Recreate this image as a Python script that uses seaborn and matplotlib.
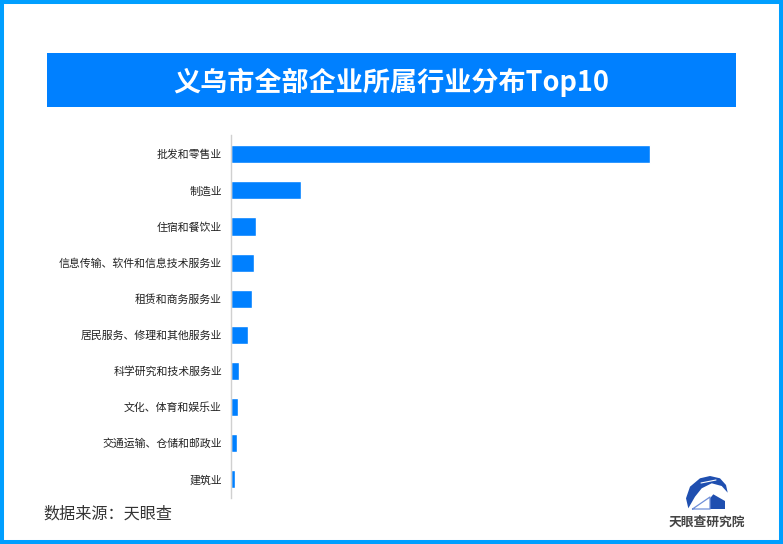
import pandas as pd
import seaborn as sns
import matplotlib.pyplot as plt
from matplotlib.patches import Rectangle, Polygon

sns.set_theme(style='white')
plt.rcParams['font.family'] = ['Noto Sans CJK SC', 'DejaVu Sans']

# 数据（从图上估读，无坐标刻度，单位按条形长度）
industries = ['批发和零售业', '制造业', '住宿和餐饮业', '信息传输、软件和信息技术服务业',
              '租赁和商务服务业', '居民服务、修理和其他服务业', '科学研究和技术服务业',
              '文化、体育和娱乐业', '交通运输、仓储和邮政业', '建筑业']
counts = [419, 70, 25, 23, 21, 17, 8, 7, 6, 4]

W, H = 783, 544
BLUE = '#0080ff'
LOGO = '#1f4fb0'

df = pd.DataFrame({'行业': industries, '数量': counts})

fig = plt.figure(figsize=(W / 100, H / 100), dpi=100)

# 主图
ax = fig.add_axes([231 / W, 1 - 498.2 / H, 505 / W, 363 / H])
sns.barplot(data=df, x='数量', y='行业', color=BLUE, width=0.5, saturation=1, ax=ax)
ax.set_xlim(0, 505)
ax.set_ylim(9.53, -0.53)
ax.set_xlabel('')
ax.set_ylabel('')
ax.set_xticks([])
ax.tick_params(axis='y', length=0, pad=6.5, labelsize=7.85, labelcolor='#222222')
sns.despine(ax=ax, left=False, bottom=True)
ax.spines['left'].set_color('#d0d0d0')
ax.spines['left'].set_linewidth(1)
ax.patch.set_alpha(0)

# 边框和标题栏
bg = fig.add_axes([0, 0, 1, 1], zorder=-1)
bg.set_xlim(0, W)
bg.set_ylim(H, 0)
bg.axis('off')
bg.add_patch(Rectangle((2, 2), W - 4, H - 4, fill=False, ec='#009fff', lw=2.9))
bg.add_patch(Rectangle((47, 53), 689, 54, color=BLUE, lw=0))
bg.text(391.5, 82, '义乌市全部企业所属行业分布Top10', color='white', fontsize=19.5,
        fontweight='bold', ha='center', va='center')
bg.text(43.5, 514, '数据来源：天眼查', color='#333333', fontsize=11.6, ha='left', va='center')

# 右下角的标识
bg.add_patch(Polygon([(688.3, 508.3), (686, 498.3), (690, 486.7), (700, 478.3), (710, 476),
                      (720, 478.3), (726, 485), (727.7, 492.7), (721.7, 486), (711.7, 483.3),
                      (701.7, 488.3), (695, 496.7)], closed=True, color=LOGO, lw=0))
bg.plot([701, 716], [483, 480], color='white', lw=0.8)
bg.add_patch(Polygon([(710, 498.3), (713.3, 494.3), (725, 501), (725, 509), (710, 509)],
                     closed=True, color=LOGO, lw=0))
bg.plot([692.5, 710, 710, 692.5], [509, 497, 509, 509], color='#6f8fd8', lw=0.9)
bg.text(707, 522.5, '天眼查研究院', color='#444444', fontsize=9.2, fontweight='bold',
        ha='center', va='center')

fig.savefig('out.png', dpi=100)
